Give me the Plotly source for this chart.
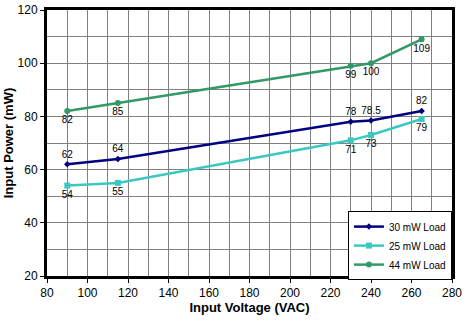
import plotly.graph_objects as go

voltage = [90, 115, 230, 240, 265]
load_30mw = [62, 64, 78, 78.5, 82]
load_25mw = [54, 55, 71, 73, 79]
load_44mw = [82, 85, 99, 100, 109]

series = [
    ("30 mW Load", load_30mw, "#000080", "diamond", 5, "top center"),
    ("25 mW Load", load_25mw, "#3CC8C0", "square", 6, "bottom center"),
    ("44 mW Load", load_44mw, "#339966", "circle", 6, "bottom center"),
]

fig = go.Figure()
for name, vals, color, symbol, msize, pos in series:
    fig.add_trace(go.Scatter(
        x=voltage, y=vals, name=name,
        mode="lines+markers+text",
        line=dict(color=color, width=2.5),
        marker=dict(color=color, symbol=symbol, size=msize),
        text=[f"{v:g}" for v in vals],
        textposition=pos,
        textfont=dict(family="Arial", size=10, color="#000000"),
    ))

axis_common = dict(
    showgrid=True, gridcolor="#808080", gridwidth=1,
    minor=dict(dtick=10, showgrid=True, gridcolor="#808080", gridwidth=1),
    showline=True, linecolor="#000000", linewidth=3, mirror=True,
    ticks="outside", ticklen=4, tickcolor="#000000", tickwidth=1,
    tickfont=dict(family="Arial", size=12, color="#000000"),
    zeroline=False, automargin=False,
)

fig.update_layout(
    width=471, height=324,
    margin=dict(l=47, r=19, t=10, b=48),
    paper_bgcolor="#FFFFFF", plot_bgcolor="#FFFFFF",
    xaxis=dict(range=[80, 280], dtick=20,
               title=dict(text="<b>Input Voltage (VAC)</b>", standoff=4,
                          font=dict(family="Arial", size=13, color="#000000")),
               **axis_common),
    yaxis=dict(range=[20, 120], dtick=20,
               title=dict(text="<b>Input Power (mW)</b>", standoff=2,
                          font=dict(family="Arial", size=13, color="#000000")),
               **axis_common),
    legend=dict(x=0.743, y=0.244, xanchor="left", yanchor="top",
                bgcolor="#FFFFFF", bordercolor="#000000", borderwidth=1,
                font=dict(family="Arial", size=10, color="#000000"),
                itemwidth=30, tracegroupgap=0),
    showlegend=True,
)

fig.write_html("out.html")
